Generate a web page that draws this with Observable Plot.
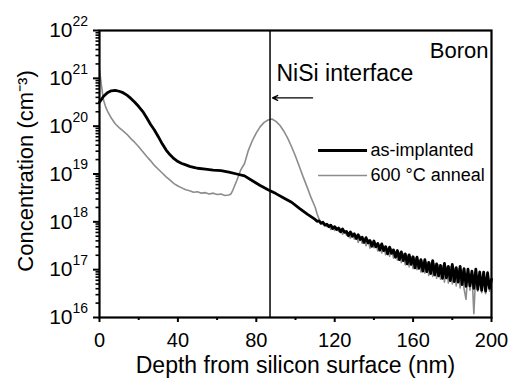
<!DOCTYPE html>
<html><head><meta charset="utf-8">
<script src="https://cdn.jsdelivr.net/npm/d3@7"></script>
<script src="https://cdn.jsdelivr.net/npm/@observablehq/plot@0.6"></script>
<style>body{margin:0;background:#fff}</style>
</head><body><div id="chart"></div>
<script>
// ---- data (depth in nm, log10 of concentration in cm^-3) ----
const implantedDepth = [0,2,4,6,8,10,12,14,16,18,20,22,24,26,28,30,32,34,36,38,40,42,44,46,48,50,54,58,62,66,70,74,78,82,86,90,94,98,102,106,
110,111,112,113,114,115,116,117,118,119,120,121,122,123,124,125,126,127,128,129,130,131,132,133,134,135,136,137,138,139,140,141,142,143,144,145,146,147,148,149,150,151,152,153,154,155,156,157,158,159,160,161,162,163,164,165,166,167,168,169,170,171,172,173,174,175,176,177,178,179,180,181,182,183,184,185,186,187,188,189,190,191,192,193,194,195,196,197,198,199,200];
const implantedLog = [20.50,20.62,20.70,20.74,20.75,20.73,20.70,20.65,20.58,20.50,20.41,20.31,20.18,20.04,19.92,19.78,19.63,19.50,19.40,19.32,19.26,19.22,19.19,19.16,19.14,19.12,19.10,19.08,19.07,19.04,19.00,18.96,18.86,18.76,18.67,18.59,18.50,18.41,18.28,18.16,
18.05,18.01,18.02,17.97,17.99,17.93,17.95,17.90,17.93,17.86,17.90,17.84,17.87,17.79,17.85,17.78,17.80,17.71,17.79,17.70,17.75,17.65,17.73,17.63,17.68,17.57,17.67,17.56,17.61,17.49,17.60,17.48,17.55,17.41,17.54,17.40,17.48,17.33,17.47,17.34,17.41,17.26,17.40,17.21,17.37,17.19,17.33,17.12,17.31,17.11,17.27,17.04,17.26,17.03,17.21,16.97,17.21,16.96,17.15,16.92,17.19,16.89,17.12,16.87,17.09,16.82,17.13,16.83,17.07,16.77,17.11,16.75,17.04,16.74,17.07,16.69,17.02,16.65,17.01,16.66,16.97,16.61,17.01,16.59,16.95,16.57,16.95,16.55,16.93,16.61,16.80];

const annealDepth = [0,1,2,3,4,6,8,10,12,14,16,18,20,22,24,26,28,30,32,34,36,38,40,42,44,46,48,50,52,54,56,58,60,62,64,66,67,68,69,70,71,72,74,76,78,80,82,84,86,88,90,92,94,96,98,100,102,104,106,108,110,111,
112,113,114,115,116,117,118,119,120,121,122,123,124,125,126,127,128,129,130,131,132,133,134,135,136,137,138,139,140,141,142,143,144,145,146,147,148,149,150,151,152,153,154,155,156,157,158,159,160,161,162,163,164,165,166,167,168,169,170,171,172,173,174,175,176,177,178,179,180,181,182,183,184,185,186,187,188,189,190,191,192,193,194,195,196,197,198,199,200];
const annealLog = [21.18,20.85,20.55,20.42,20.32,20.17,20.05,19.97,19.90,19.83,19.74,19.66,19.57,19.47,19.37,19.28,19.18,19.10,19.02,18.94,18.87,18.80,18.75,18.71,18.67,18.65,18.62,18.63,18.60,18.61,18.58,18.60,18.57,18.58,18.55,18.56,18.58,18.66,18.76,18.86,18.97,19.08,19.22,19.50,19.70,19.86,19.99,20.08,20.13,20.15,20.10,20.02,19.90,19.75,19.57,19.37,19.15,18.93,18.72,18.50,18.31,18.17,
18.06,17.98,17.95,17.97,17.90,17.94,17.84,17.91,17.82,17.88,17.80,17.86,17.74,17.82,17.72,17.77,17.66,17.76,17.64,17.72,17.57,17.70,17.55,17.64,17.50,17.63,17.45,17.58,17.46,17.55,17.39,17.52,17.35,17.50,17.31,17.44,17.28,17.44,17.24,17.38,17.20,17.36,17.15,17.33,17.10,17.30,17.06,17.27,17.02,17.25,17.00,17.20,16.95,17.18,16.93,17.16,16.88,17.14,16.86,17.12,16.82,17.10,16.80,17.08,16.74,17.05,16.72,17.06,16.70,17.03,16.66,17.02,16.62,16.99,16.60,16.38,16.98,16.57,16.95,16.08,16.94,16.55,16.97,16.52,16.92,16.50,16.96,16.55,16.78];

const xMajorTicks = [0,40,80,120,160,200];
const xMinorTicks = [20,60,100,140,180];
const yDecades = [1e16,1e17,1e18,1e19,1e20,1e21,1e22];
const yExponents = ["16","17","18","19","20","21","22"];
const interfaceDepth = [87];
const seriesNames = ["as-implanted","600 \u00B0C anneal"];
const seriesColors = ["#000000","#8c8c8c"];
const legendX1 = [111.5,111.5], legendX2 = [136.5,136.5], legendY = [3.1e19,9.3e18], legendTextX = [138.3,138.3];
const annotText = ["NiSi interface"], annotX = [90.3], annotY = [1.25e21];
const arrowX1 = [108.7], arrowX2 = [88.3], arrowY = [3.9e20];

const implanted = implantedDepth.map((d,i)=>({depth:d, conc:Math.pow(10, implantedLog[i])}));
const anneal = annealDepth.map((d,i)=>({depth:d, conc:Math.pow(10, annealLog[i])}));
const minorY = [];
for (const dec of yDecades.slice(0,-1)) for (const m of [2,3,4,5,6,7,8,9]) minorY.push(dec*m);
const legend = seriesNames.map((n,i)=>({name:n, color:seriesColors[i], x1:legendX1[i], x2:legendX2[i], y:legendY[i], tx:legendTextX[i]}));
const decadeRows = yDecades.map((v,i)=>({v, e:yExponents[i]}));

const font = "Liberation Sans, Arial, Helvetica, sans-serif";
const chart = Plot.plot({
  width: 510, height: 379,
  marginLeft: 99, marginRight: 19, marginTop: 30, marginBottom: 62,
  style: {fontFamily: font, background: "#fff", color: "#000"},
  x: {domain: [0, 200]},
  y: {type: "log", domain: [1e16, 1e22]},
  marks: [
    Plot.line(anneal, {x: "depth", y: "conc", stroke: seriesColors[1], strokeWidth: 1.6}),
    Plot.line(implanted, {x: "depth", y: "conc", stroke: seriesColors[0], strokeWidth: 2.8}),
    Plot.ruleX(interfaceDepth, {stroke: "#000", strokeWidth: 1.5}),
    Plot.frame({stroke: "#000", strokeWidth: 2.2}),
    Plot.axisX({ticks: xMajorTicks, tickSize: 5, tickPadding: 10, strokeWidth: 2, fontSize: 20, label: null}),
    Plot.axisX({ticks: xMinorTicks, tickSize: 3, strokeWidth: 2, tickFormat: () => "", label: null}),
    Plot.axisY({ticks: yDecades, tickSize: 6, strokeWidth: 2, tickFormat: () => "", label: null}),
    Plot.axisY({ticks: minorY, tickSize: 3.5, strokeWidth: 1.6, tickFormat: () => "", label: null}),
    Plot.text(decadeRows, {y: "v", frameAnchor: "left", text: () => "10", textAnchor: "end", dx: -27, fontSize: 21}),
    Plot.text(decadeRows, {y: "v", frameAnchor: "left", text: "e", textAnchor: "start", dx: -27, dy: -9, fontSize: 14}),
    Plot.text(["Depth from silicon surface (nm)"], {frameAnchor: "bottom", dy: 48, lineAnchor: "middle", fontSize: 23}),
    Plot.text(["Concentration (cm\u207B\u00B3)"], {frameAnchor: "left", dx: -74, dy: -3, rotate: -90, textAnchor: "middle", lineAnchor: "middle", fontSize: 22}),
    Plot.text(["Boron"], {frameAnchor: "top-right", dx: -3, dy: 20, lineAnchor: "middle", fontSize: 22, textAnchor: "end"}),
    Plot.text(annotText, {x: annotX, y: annotY, text: d => d, textAnchor: "start", fontSize: 23}),
    Plot.arrow(arrowX1, {x1: d => d, x2: (d,i) => arrowX2[i], y1: (d,i) => arrowY[i], y2: (d,i) => arrowY[i], stroke: "#000", strokeWidth: 1.4, headLength: 6, headAngle: 50}),
    Plot.link(legend, {x1: "x1", x2: "x2", y1: "y", y2: "y", stroke: "color", strokeWidth: d => d.name === "as-implanted" ? 2.8 : 1.6}),
    Plot.text(legend, {x: "tx", y: "y", text: "name", textAnchor: "start", fontSize: 18})
  ]
});
document.getElementById("chart").append(chart);
</script>
</body></html>
